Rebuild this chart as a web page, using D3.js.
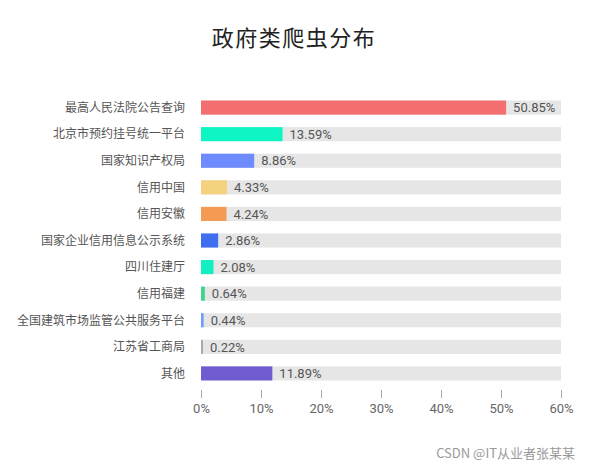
<!DOCTYPE html>
<html>
<head>
<meta charset="utf-8">
<script src="https://cdn.jsdelivr.net/npm/d3@7"></script>
<style>
  body { margin: 0; background: #fff; }
  text { font-family: "Noto Sans CJK SC", "Noto Sans", sans-serif; }
</style>
</head>
<body>
<div id="chart"></div>
<script>
// data
const categories = ['最高人民法院公告查询', '北京市预约挂号统一平台', '国家知识产权局', '信用中国', '信用安徽',
	'国家企业信用信息公示系统', '四川住建厅', '信用福建', '全国建筑市场监管公共服务平台', '江苏省工商局', '其他'];
const shares = [50.85, 13.59, 8.86, 4.33, 4.24, 2.86, 2.08, 0.64, 0.44, 0.22, 11.89];
const barColors = ['#f46d6f', '#0ef5c4', '#6e8bfd', '#f4d27e', '#f49a52', '#3f6ff0', '#12efc2', '#3dd68c', '#6e9cff', '#aaaaaa', '#715bd1'];
const tickValues = [0, 10, 20, 30, 40, 50, 60];

const width = 590;
const height = 468;
const margin = { top: 100, right: 29, bottom: 87, left: 201 };
const numFont = 'Roboto, "Liberation Sans", sans-serif';

const svg = d3.select('#chart')
	.append('svg')
	.attr('width', width)
	.attr('height', height);

// title
svg.append('text')
	.attr('x', 294)
	.attr('y', 46)
	.attr('text-anchor', 'middle')
	.style('font-size', '22px')
	.style('letter-spacing', '1.5px')
	.style('fill', '#222')
	.text('政府类爬虫分布');

const x = d3.scaleLinear()
	.domain([0, 60])
	.range([margin.left, width - margin.right]);

const y = d3.scaleBand()
	.domain(categories)
	.range([margin.top, height - margin.bottom])
	.paddingInner(0.47)
	.paddingOuter(0.02);

const rows = svg.selectAll('g.row')
	.data(categories)
	.enter()
	.append('g')
	.attr('class', 'row');

// grey track behind each bar
rows.append('rect')
	.attr('x', x(0))
	.attr('y', d => y(d))
	.attr('width', x(60) - x(0))
	.attr('height', y.bandwidth())
	.style('fill', '#e6e6e6');

rows.append('rect')
	.attr('x', x(0))
	.attr('y', d => y(d))
	.attr('width', (d, i) => Math.max(x(shares[i]) - x(0), 2))
	.attr('height', y.bandwidth())
	.style('fill', (d, i) => barColors[i]);

// value labels
rows.append('text')
	.attr('x', (d, i) => Math.max(x(shares[i]), x(0) + 2) + 7)
	.attr('y', d => y(d) + y.bandwidth() / 2)
	.attr('dy', '0.36em')
	.style('font-family', numFont)
	.style('font-size', '13px')
	.style('fill', '#555')
	.text((d, i) => shares[i].toFixed(2) + '%');

// category labels
rows.append('text')
	.attr('x', 185)
	.attr('y', d => y(d) + y.bandwidth() / 2)
	.attr('dy', '0.36em')
	.attr('text-anchor', 'end')
	.style('font-size', '12px')
	.style('fill', '#555')
	.text(d => d);

// x axis
const axis = svg.append('g')
	.attr('transform', `translate(0, ${height - margin.bottom + 9})`)
	.call(d3.axisBottom(x).tickValues(tickValues).tickSize(8).tickPadding(6).tickFormat(d => d + '%'));

axis.select('.domain').remove();
axis.selectAll('line').style('stroke', '#aaa');
axis.selectAll('text')
	.style('font-size', '13px')
	.style('fill', '#666')
	.style('font-family', numFont);

// watermark
svg.append('text')
	.attr('x', 575)
	.attr('y', 458)
	.attr('text-anchor', 'end')
	.style('font-size', '13px')
	.style('fill', '#999')
	.text('CSDN @IT从业者张某某');
</script>
</body>
</html>
